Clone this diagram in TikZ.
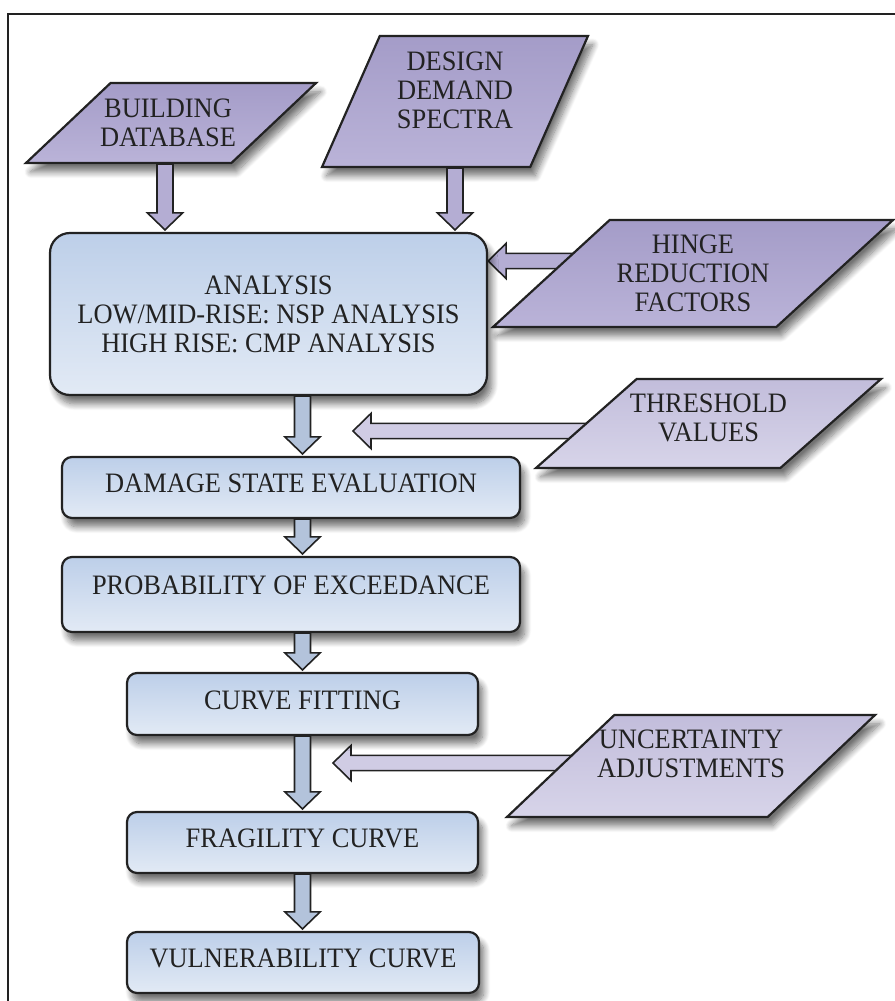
\documentclass[tikz,border=0pt]{standalone}
\usepackage{fontspec}
\setmainfont[FakeStretch=0.94]{Liberation Serif}
\usepackage{tikz}
\usetikzlibrary{calc,shapes.geometric,shadows.blur,backgrounds}
\definecolor{ink}{HTML}{222222}
\definecolor{boxtop}{HTML}{BDCFE9}
\definecolor{boxbot}{HTML}{E2EAF5}
\definecolor{partop}{HTML}{A49CC8}
\definecolor{parbot}{HTML}{BAB3D8}
\definecolor{lpartop}{HTML}{C2BDDB}
\definecolor{lparbot}{HTML}{D7D4E9}
\definecolor{arrblue}{HTML}{B3C3DB}
\definecolor{arrlav}{HTML}{B4ADD3}
\definecolor{arrpale}{HTML}{D0CCE4}
\newcommand\flowfont{\fontsize{20pt}{20.6pt}\selectfont}
\tikzset{
  dshadow/.style={blur shadow={shadow xshift=1.2mm,shadow yshift=-2.2mm,shadow blur radius=1.6mm,shadow blur steps=10,shadow opacity=55}},
  box/.style={draw=ink,line width=0.55mm,rounded corners=2.5mm,top color=boxtop,bottom color=boxbot,
    inner sep=0pt,font=\flowfont,text=ink,align=center,dshadow},
  sbox/.style={box,text depth=2mm},
  para/.style={trapezium,trapezium stretches=true,trapezium left angle=55,trapezium right angle=125,
    draw=ink,line width=0.55mm,top color=partop,bottom color=parbot,inner sep=2mm,dshadow},
  lpara/.style={para,top color=lpartop,bottom color=lparbot},
  ptext/.style={font=\flowfont,text=ink,align=center},
  blk/.style={draw=ink,line width=0.4mm,fill=#1},
  arrdown/.style={blk=#1,to path={let \p1=(\tikztostart),\p2=(\tikztotarget) in
    (\x1-2mm,\y1) -- (\x1-2mm,\y2+4.75mm) -- (\x1-4.4mm,\y2+4.75mm) -- (\x1,\y2+0.5mm)
    -- (\x1+4.4mm,\y2+4.75mm) -- (\x1+2mm,\y2+4.75mm) -- (\x1+2mm,\y1) -- cycle}},
  arrleft/.style={blk=#1,to path={let \p1=(\tikztostart),\p2=(\tikztotarget) in
    (\x1,\y1-1.9mm) -- (\x2+4.5mm,\y1-1.9mm) -- (\x2+4.5mm,\y1-4.4mm) -- (\x2,\y1)
    -- (\x2+4.5mm,\y1+4.4mm) -- (\x2+4.5mm,\y1+1.9mm) -- (\x1,\y1+1.9mm) -- cycle}},
}

\begin{document}
\begin{tikzpicture}[x=0.25mm,y=-0.25mm]
\useasboundingbox (0,0) rectangle (894,1001);
\draw[ink,line width=0.5mm] (8,14) rectangle (905,1010);

% inputs
\node[para,minimum width=72.5mm,minimum height=20mm,
  label={[ptext,xshift=-0.75mm]center:BUILDING\\DATABASE}] (bldg) at (171,123) {};
\node[para,trapezium left angle=69,trapezium right angle=111,minimum width=66.5mm,minimum height=32.75mm,
  label={[ptext,yshift=2.75mm]center:DESIGN\\DEMAND\\SPECTRA}] (dsn) at (455,101.5) {};
\node[para,minimum width=100mm,minimum height=26.75mm,
  label={[ptext]center:HINGE\\REDUCTION\\FACTORS}] (hng) at (693,273.5) {};
\node[lpara,minimum width=86.25mm,minimum height=22.25mm,
  label={[ptext,yshift=1.5mm]center:THRESHOLD\\VALUES}] (thr) at (708.5,423.5) {};
\node[lpara,minimum width=92mm,minimum height=25.5mm,
  label={[ptext,yshift=3mm]center:UNCERTAINTY\\ADJUSTMENTS}] (unc) at (691,766) {};

% process chain
\node[box,rounded corners=5mm,minimum width=109.25mm,minimum height=40.5mm] (ana) at (268.5,314)
  {ANALYSIS\\LOW/MID-RISE: NSP ANALYSIS\\HIGH RISE: CMP ANALYSIS};
\node[sbox,minimum width=114.5mm,minimum height=15.25mm] (dmg) at (291,487.5) {DAMAGE STATE EVALUATION};
\node[sbox,text depth=4.75mm,minimum width=114.5mm,minimum height=18.75mm] (prob) at (291,594.5) {PROBABILITY OF EXCEEDANCE};
\node[sbox,minimum width=87.75mm,minimum height=15.5mm] (fit) at (302.5,704) {CURVE FITTING};
\node[sbox,minimum width=87.75mm,minimum height=15.25mm] (frag) at (302.5,842.5) {FRAGILITY CURVE};
\node[sbox,minimum width=88mm,minimum height=15.25mm] (vul) at (303,962.5) {VULNERABILITY CURVE};

\coordinate (hin) at (ana.east |- 0,261);
\coordinate (tin) at (353,431);
\coordinate (uin) at (333,763);

% side inputs run in behind their boxes
\begin{scope}[on background layer]
  \draw[arrleft=arrlav] (hng.center |- hin) to (hin);
  \draw[arrleft=arrpale] (thr.center |- tin) to (tin);
  \draw[arrleft=arrpale] (unc.center |- uin) to (uin);
\end{scope}

\draw[arrdown=arrlav] ([xshift=-1.5mm]bldg.south) to (ana.north -| bldg.south);
\draw[arrdown=arrlav] (dsn.south) to (ana.north -| dsn.south);
\foreach \a/\b in {ana/dmg,dmg/prob,prob/fit,fit/frag,frag/vul}
  \draw[arrdown=arrblue] (\a.south -| fit) to (\b.north -| fit);
\end{tikzpicture}
\end{document}
